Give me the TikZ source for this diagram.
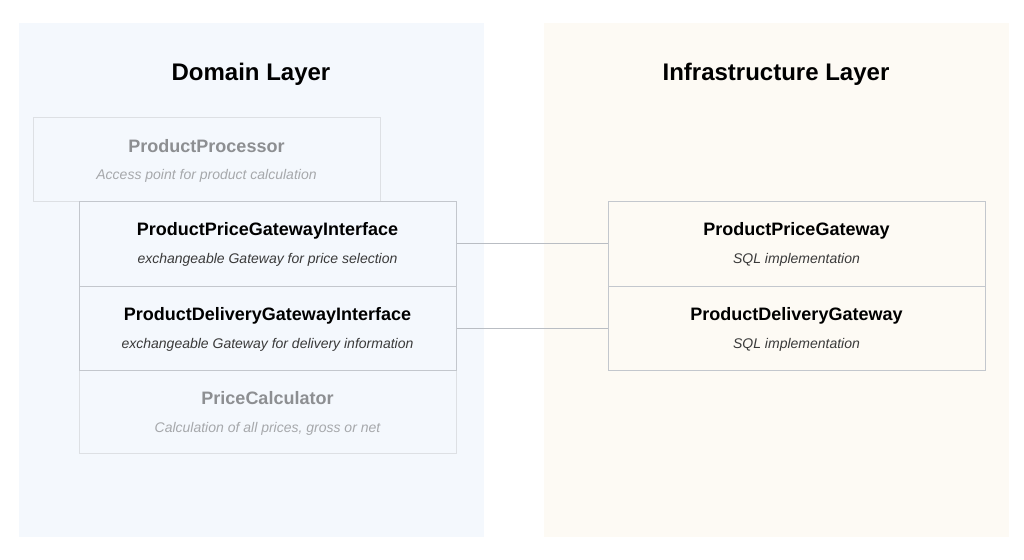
\documentclass[tikz,border=0pt]{standalone}
\usepackage{fontspec}
\setmainfont{Liberation Sans}
\usetikzlibrary{calc}

\definecolor{domainbg}{HTML}{F4F8FD}
\definecolor{infrabg}{HTML}{FDFAF4}
\definecolor{boxline}{HTML}{C3C7CD}
\definecolor{fadeline}{HTML}{DDE0E4}
\definecolor{linkline}{HTML}{B9BDC3}
\definecolor{subtext}{HTML}{3A3A3A}
\definecolor{fadetitle}{HTML}{8D8F92}
\definecolor{fadesub}{HTML}{A6A8AB}

\begin{document}
\begin{tikzpicture}[x=0.75pt, y=-0.75pt,
  layerhead/.style={anchor=base, font=\fontsize{18}{21}\selectfont\bfseries, text=black},
  classbox/.style={draw=boxline, line width=0.75pt, rectangle, inner sep=0pt},
  fadebox/.style={draw=fadeline, line width=0.75pt, rectangle, inner sep=0pt},
  classname/.style={anchor=base, font=\fontsize{13.5}{16}\selectfont\bfseries, text=black},
  classnote/.style={anchor=base, font=\fontsize{10.5}{12}\selectfont\itshape, text=subtext},
  fadename/.style={classname, text=fadetitle},
  fadenote/.style={classnote, text=fadesub},
  link/.style={draw=linkline, line width=0.75pt}]

  \useasboundingbox (0,0) rectangle (1024,560);

  % layers
  \fill[domainbg] (19,23) rectangle (484,537);
  \fill[infrabg] (544,23) rectangle (1009,537);
  \node[layerhead] (domainHead) at (251,80) {Domain Layer};
  \node[layerhead] (infraHead) at (776,80) {Infrastructure Layer};

  % domain classes
  \node[fadebox, minimum width=260.25pt, minimum height=63pt] (processor) at (206.5,159) {};
  \node[fadebox, minimum width=282.75pt, minimum height=62.25pt] (calculator) at (267.5,411.5) {};
  \node[classbox, minimum width=282.75pt, minimum height=63.75pt] (priceIface) at (267.5,243.5) {};
  \node[classbox, minimum width=282.75pt, minimum height=63pt] (deliveryIface) at (267.5,328) {};

  \node[fadename] at ($(processor.north)+(0,36)$) {ProductProcessor};
  \node[fadenote] at ($(processor.north)+(0,63)$) {Access point for product calculation};
  \node[classname] at ($(priceIface.north)+(0,35)$) {ProductPriceGatewayInterface};
  \node[classnote] at ($(priceIface.north)+(0,63)$) {exchangeable Gateway for price selection};
  \node[classname] at ($(deliveryIface.north)+(0,35)$) {ProductDeliveryGatewayInterface};
  \node[classnote] at ($(deliveryIface.north)+(0,63)$) {exchangeable Gateway for delivery information};
  \node[fadename] at ($(calculator.north)+(0,35)$) {PriceCalculator};
  \node[fadenote] at ($(calculator.north)+(0,63)$) {Calculation of all prices, gross or net};

  % infrastructure classes
  \node[classbox, minimum width=282.75pt, minimum height=63.75pt] (priceGw) at (796.5,243.5) {};
  \node[classbox, minimum width=282.75pt, minimum height=63pt] (deliveryGw) at (796.5,328) {};

  \node[classname] at ($(priceGw.north)+(0,35)$) {ProductPriceGateway};
  \node[classnote] at ($(priceGw.north)+(0,63)$) {SQL implementation};
  \node[classname] at ($(deliveryGw.north)+(0,35)$) {ProductDeliveryGateway};
  \node[classnote] at ($(deliveryGw.north)+(0,63)$) {SQL implementation};

  % connections
  \draw[link] (priceIface.east) -- (priceGw.west);
  \draw[link] (deliveryIface.east) -- (deliveryGw.west);

\end{tikzpicture}
\end{document}
